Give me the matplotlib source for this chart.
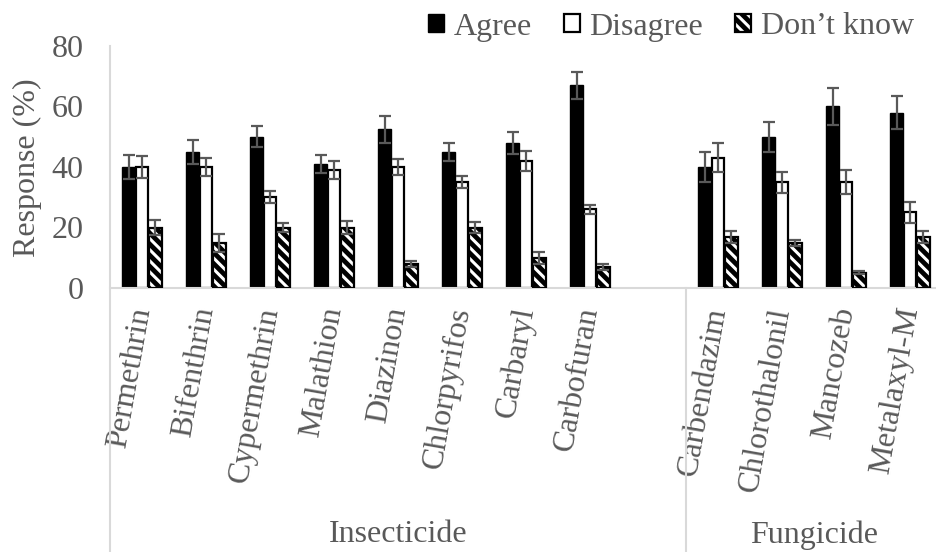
import matplotlib
matplotlib.use("Agg")
import matplotlib.pyplot as plt
import matplotlib.transforms as mtransforms
from matplotlib.patches import Patch
import numpy as np

# chemicals in plot order; None is the empty slot before the fungicides
chemicals = ["Permethrin", "Bifenthrin", "Cypermethrin", "Malathion", "Diazinon",
             "Chlorpyrifos", "Carbaryl", "Carbofuran", None,
             "Carbendazim", "Chlorothalonil", "Mancozeb", "Metalaxyl-M"]
agree = [40, 45, 50, 41, 52.5, 45, 48, 67, None, 40, 50, 60, 58]
agree_err = [4, 4, 3.5, 3, 4.5, 3, 3.7, 4.5, None, 5, 5, 6, 5.5]
disagree = [40, 40, 30, 39, 40, 35, 42, 26, None, 43, 35, 35, 25]
disagree_err = [3.5, 3, 2, 3, 2.5, 2, 3.3, 1.5, None, 4.8, 3.5, 4, 3.5]
dont_know = [20, 15, 20, 20, 8, 20, 10, 7, None, 17, 15, 5, 17]
dont_know_err = [2.5, 3, 1.5, 2, 1, 1.7, 2, 1, None, 2, 1, 0.5, 2]
groups = ["Insecticide", "Fungicide"]
group_spans = [(-0.5, 8.5), (8.5, 12.5)]

TEXT = "#595959"
AXIS = "#d9d9d9"
FS = 23
plt.rcParams["font.family"] = ["Liberation Serif", "DejaVu Serif"]
plt.rcParams["hatch.linewidth"] = 2.2

fig = plt.figure(figsize=(9.36, 5.52), dpi=100)
ax = fig.add_axes([110 / 936, 1 - 288 / 552, 832 / 936, 242 / 552])

idx = [i for i, c in enumerate(chemicals) if c is not None]
x = np.array(idx, dtype=float)


def pick(vals):
    return [vals[i] for i in idx]


w = 0.2
off = 0.205
err_kw = dict(ecolor=TEXT, elinewidth=1.6, capsize=4.5, capthick=1.6)

ax.bar(x - off, pick(agree), w, color="black", edgecolor="black", linewidth=1,
       yerr=pick(agree_err), error_kw=err_kw, zorder=2)
ax.bar(x, pick(disagree), w, color="white", edgecolor="black", linewidth=1.6,
       yerr=pick(disagree_err), error_kw=err_kw, zorder=2)
# hatched bars: black face with white stripes, then a black outline
ax.bar(x + off, pick(dont_know), w, color="black", edgecolor="white", hatch="\\\\\\",
       linewidth=0, zorder=2)
ax.bar(x + off, pick(dont_know), w, fill=False, edgecolor="black", linewidth=1.6,
       yerr=pick(dont_know_err), error_kw=err_kw, zorder=3)

ax.set_xlim(-0.5, 12.5)
ax.set_ylim(0, 80)
ax.set_yticks([0, 20, 40, 60, 80])
ax.tick_params(axis="y", length=0, pad=19, labelsize=FS, labelcolor=TEXT)
ax.tick_params(axis="x", length=0, pad=14)
ax.set_xticks(x)
ax.set_xticklabels(pick(chemicals), rotation=80, rotation_mode="anchor",
                   ha="right", va="center", fontsize=FS, color=TEXT)

for s in ["top", "right", "left"]:
    ax.spines[s].set_visible(False)
ax.spines["bottom"].set_color(AXIS)
ax.spines["bottom"].set_linewidth(1.5)

# vertical lines of the category axis, running down to the figure bottom
trans = mtransforms.blended_transform_factory(ax.transData, ax.transAxes)
ax.plot([-0.5, -0.5], [1, -1.2], transform=trans, color=AXIS, lw=1.5, clip_on=False)
ax.plot([8.5, 8.5], [0, -1.2], transform=trans, color=AXIS, lw=1.5, clip_on=False)

for name, (a, b) in zip(groups, group_spans):
    ax.text((a + b) / 2, -1.02, name, transform=trans, ha="center", va="center",
            fontsize=FS, color=TEXT)

fig.text(27 / 936, 1 - 168 / 552, "Response (%)", rotation=90, ha="center",
         va="center", fontsize=FS, color=TEXT)

outline = Patch(facecolor="none", edgecolor="black", linewidth=1.6)
hatched = Patch(facecolor="black", edgecolor="white", hatch="\\\\\\", linewidth=0)
handles = [Patch(facecolor="black", edgecolor="black"),
           Patch(facecolor="white", edgecolor="black", linewidth=1.6),
           (hatched, outline)]
leg = fig.legend(handles, ["Agree", "Disagree", "Don\u2019t know"], loc="center",
                 bbox_to_anchor=(671 / 936, 1 - 27 / 552), ncol=3, frameon=False,
                 fontsize=FS, handlelength=0.5, handleheight=0.5,
                 handletextpad=0.3, columnspacing=1.0)
for t in leg.get_texts():
    t.set_color(TEXT)

fig.savefig("out.png", dpi=100)
